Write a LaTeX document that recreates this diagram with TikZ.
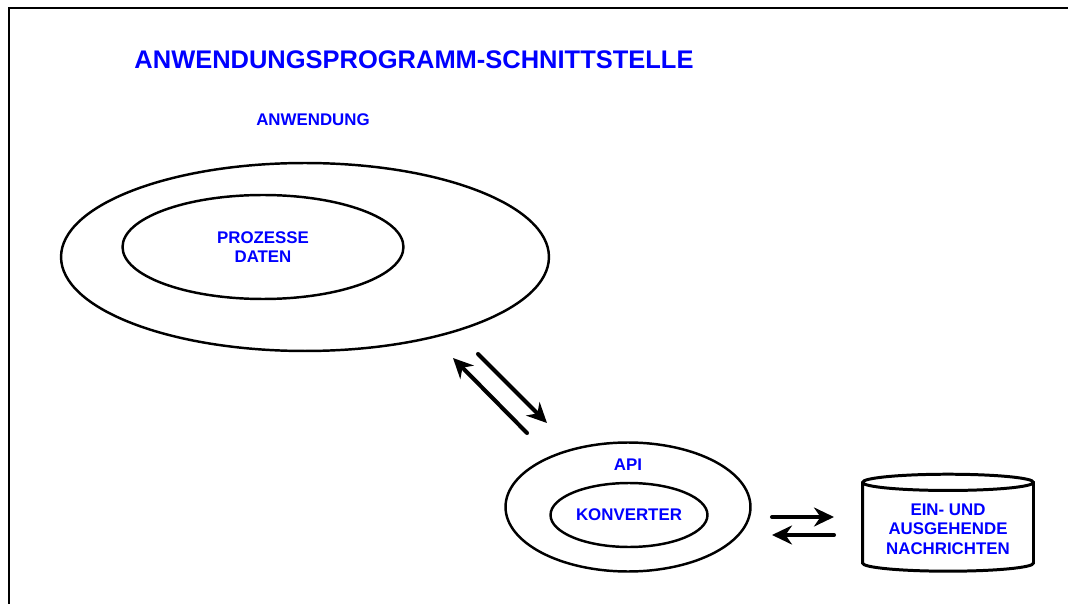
\documentclass[tikz,border=0pt]{standalone}
\usepackage{fontspec}
\setmainfont{Liberation Sans}
\usetikzlibrary{shapes.geometric}
\usetikzlibrary{arrows.meta}

\begin{document}
\begin{tikzpicture}[x=0.02cm, y=-0.02cm,
		ring/.style={shape=ellipse, draw=black, line width=1.4pt, inner sep=0pt},
		lbl/.style={text=blue, font=\bfseries\fontsize{9.6}{11}\selectfont, align=center},
		flow/.style={-{Stealth[length=4mm, width=3.8mm, inset=1.3mm]}, line width=2.3pt, line cap=round},
]
\useasboundingbox (0,0) rectangle (1068,604);
\draw[line width=1.2pt] (9,604) -- (9,8) -- (1068,8);

\node[lbl, font=\bfseries\fontsize{14.5}{17}\selectfont] (title) at (414,60) {ANWENDUNGSPROGRAMM-SCHNITTSTELLE};

% Anwendung
\node[lbl] (anwlbl) at (313,120) {ANWENDUNG};
\node[ring, minimum width=9.76cm, minimum height=3.76cm] (anw) at (305,257) {};
\node[ring, minimum width=5.62cm, minimum height=2.08cm, lbl] (proz) at (263,247) {PROZESSE\\DATEN};

% API
\node[ring, minimum width=4.9cm, minimum height=2.58cm] (api) at (628,507) {};
\node[lbl] (apilbl) at (628,465) {API};
\node[ring, minimum width=3.14cm, minimum height=1.28cm, lbl] (konv) at (629,515) {KONVERTER};

% Nachrichten
\node[cylinder, shape border rotate=90, draw=black, line width=1.7pt, aspect=0.12,
	minimum width=3.42cm, minimum height=1.94cm, lbl] (msg) at (948,529) {EIN- UND\\AUSGEHENDE\\NACHRICHTEN};

\coordinate (a1) at (478,354);
\coordinate (b1) at (547,423);
\coordinate (a2) at (527,433);
\coordinate (b2) at (453,358);
\coordinate (c1) at (772,517);
\coordinate (d1) at (834,517);
\coordinate (c2) at (834,535);
\coordinate (d2) at (772,535);

\draw [flow] (a1) -- (b1);
\draw [flow] (a2) -- (b2);
\draw [flow] (c1) -- (d1);
\draw [flow] (c2) -- (d2);

\end{tikzpicture}
\end{document}
